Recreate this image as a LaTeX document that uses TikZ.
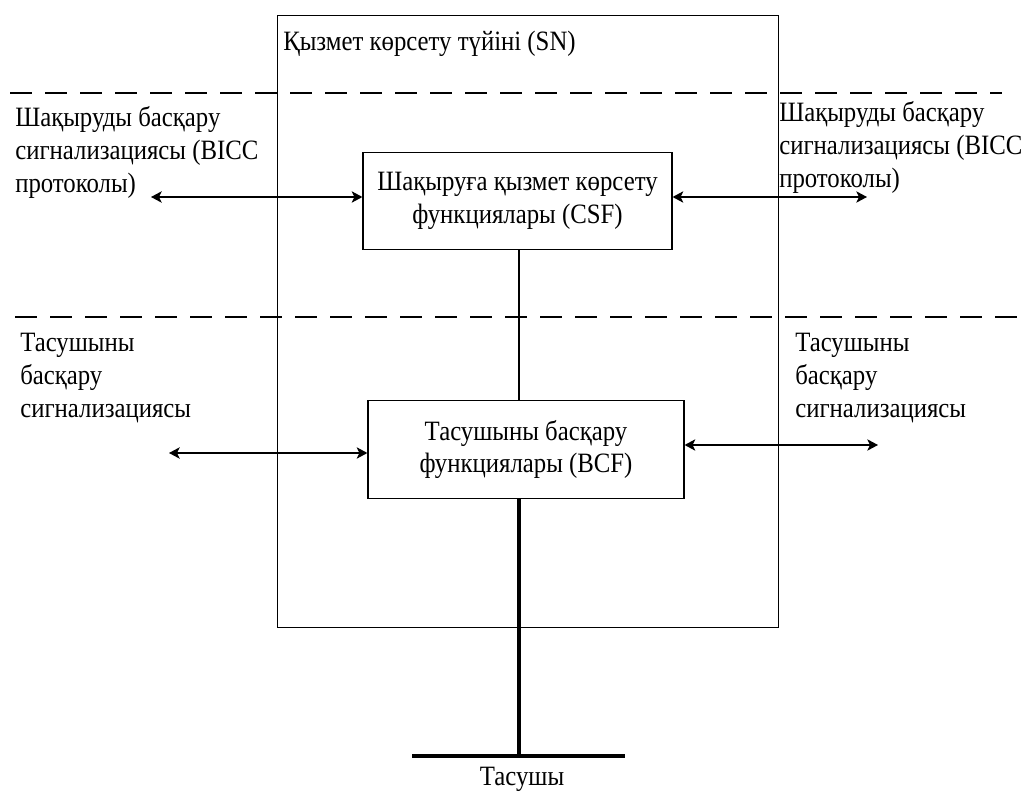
\documentclass[tikz,border=0pt]{standalone}
\usepackage{fontspec}
\setmainfont{Liberation Serif}[FakeStretch=0.885]
\usetikzlibrary{arrows.meta}
\begin{document}
\begin{tikzpicture}[x=0.75pt,y=-0.75pt,
  every node/.style={font=\fontsize{21pt}{24.5pt}\selectfont, inner sep=0pt},
  box/.style={draw, line width=0.9pt},
  func/.style={box, align=center, minimum height=73pt},
  divider/.style={line width=0.9pt, dash pattern=on 16.5pt off 9.75pt},
  link/.style={line width=0.9pt, {Stealth[length=8pt,width=8.5pt,inset=2pt]}-{Stealth[length=8pt,width=8.5pt,inset=2pt]}},
  wire/.style={line width=0.9pt},
  busline/.style={line width=2.4pt},
  lbl/.style={anchor=base west, align=left}
]
\useasboundingbox (0,0) rectangle (1033,792);

% service node frame
\node[box, anchor=north west, minimum width=375.75pt, minimum height=459pt] (sn) at (277,15) {};
\node[anchor=base west] (sntitle) at (283,51) {Қызмет көрсету түйіні (SN)};

% layer dividers
\draw[divider] (10,93) -- (1002,93);
\draw[divider] (15,317) -- (1030,317);

% function blocks
\node[func, minimum width=231.75pt] (csf) at (517.5,201)
  {Шақыруға қызмет көрсету\\функциялары (CSF)};
\node[func, minimum width=237pt] (bcf) at (526,449.5)
  {Тасушыны басқару\\функциялары (BCF)};

% signalling labels (anchored on the baseline of their last line)
\node[lbl] (cl) at (15,192) {Шақыруды басқару\\сигнализациясы (BICC\\протоколы)};
\node[lbl] (cr) at (779,187) {Шақыруды басқару\\сигнализациясы (BICC\\протоколы)};
\node[lbl] (bl) at (20,417) {Тасушыны\\басқару\\сигнализациясы};
\node[lbl] (br) at (795,417) {Тасушыны\\басқару\\сигнализациясы};

% signalling links
\coordinate (csfL) at (151,197);
\coordinate (csfR) at (867,197);
\coordinate (bcfL) at (169,453);
\coordinate (bcfR) at (878,445);
\draw[link] (csfL) -- (csf.west |- csfL);
\draw[link] (csf.east |- csfR) -- (csfR);
\draw[link] (bcfL) -- (bcf.west |- bcfL);
\draw[link] (bcf.east |- bcfR) -- (bcfR);

% bearer connection
\coordinate (bus) at (519,756);
\coordinate (busL) at (412,756);
\coordinate (busR) at (625,756);
\draw[wire] (csf.south -| bus) -- (bcf.north -| bus);
\draw[busline] (bcf.south -| bus) -- (bus);
\draw[busline] (busL) -- (busR);
\node[anchor=base] (bearer) at (522,785) {Тасушы};
\end{tikzpicture}
\end{document}
